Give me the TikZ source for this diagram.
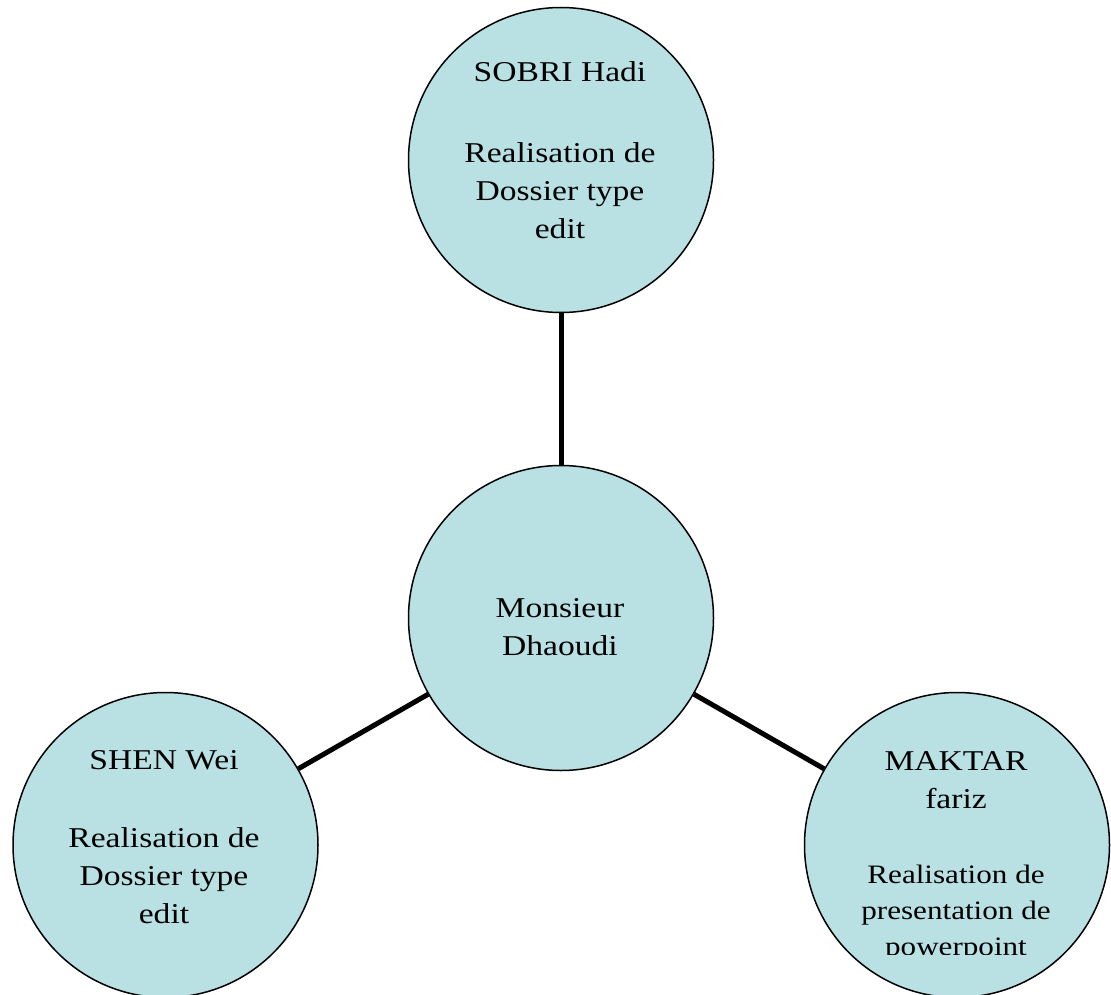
\documentclass[tikz,border=0pt]{standalone}
\usepackage{fontspec}
\setmainfont{Liberation Serif}[FakeStretch=1.17]
\definecolor{bubblefill}{RGB}{185,224,227}
\pgfdeclarelayer{bg}
\pgfsetlayers{bg,main}
\newcommand\smallline{\fontsize{26.6pt}{36pt}\selectfont}
\tikzset{
  bubble/.style={circle, draw=black, line width=1.5pt, fill=bubblefill, minimum size=305pt, inner sep=0pt},
  link/.style={line width=5pt, draw=black},
  lbl/.style={align=center, anchor=base, inner sep=0pt, font=\fontsize{28.7pt}{38pt}\selectfont},
}
\begin{document}
\begin{tikzpicture}[x=1pt,y=-1pt]
\useasboundingbox (0,0) rectangle (1111,995);
\begin{scope}
\clip (0,0) rectangle (1111,995);
\node[bubble] (top) at (561,160) {};
\node[bubble] (mid) at (561,618) {};
\node[bubble] (left) at (165.5,845) {};
\node[bubble] (right) at (957,845) {};
\end{scope}
\begin{pgfonlayer}{bg}
\draw[link] (top) -- (mid);
\draw[link] (mid) -- (left);
\draw[link] (mid) -- (right);
\end{pgfonlayer}
\node[lbl] (toptext) at (560,238) {SOBRI Hadi\\[43pt]Realisation de\\Dossier type\\edit};
\node[lbl] (midtext) at (560,655) {Monsieur\\Dhaoudi};
\node[lbl] (lefttext) at (164,923) {SHEN Wei\\[40pt]Realisation de\\Dossier type\\edit};
\begin{scope}
\clip (800,680) rectangle (1111,954);
\node[lbl] (righttext) at (956,955) {MAKTAR\\fariz\\[37pt]\smallline Realisation de\\[-2pt]\smallline presentation de\\[-2pt]\smallline powerpoint};
\end{scope}
\end{tikzpicture}
\end{document}
